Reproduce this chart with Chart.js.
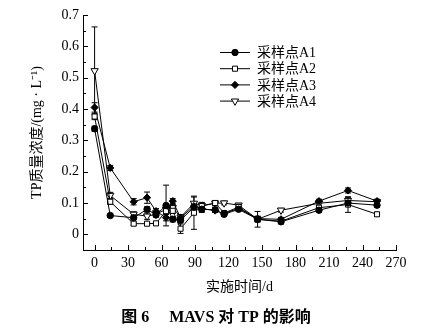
<!DOCTYPE html>
<html>
<head>
<meta charset="utf-8">
<script src="https://cdn.jsdelivr.net/npm/chart.js@4.4.1/dist/chart.umd.min.js"></script>
<style>
  html, body { margin: 0; padding: 0; background: #fff; }
  #wrap { width: 435px; height: 333px; position: relative; }
</style>
</head>
<body>
<div id="wrap"><canvas id="tpChart" width="435" height="333"></canvas></div>
<script>
// sampling days
const days = [0, 14, 35, 47, 55, 64, 70, 77, 89, 96, 108, 116, 129, 146, 167, 201, 227, 253];

// TP concentration per sampling point (mg/L)
const a1 = [0.337, 0.060, 0.053, 0.080, 0.062, 0.092, 0.048, 0.045, 0.087, 0.080, 0.078, 0.064, 0.080, 0.048, 0.040, 0.077, 0.100, 0.093];
const a2 = [0.376, 0.104, 0.034, 0.034, 0.035, 0.074, 0.075, 0.018, 0.069, 0.090, 0.100, 0.068, 0.087, 0.048, 0.042, 0.085, 0.095, 0.064];
const a3 = [0.405, 0.212, 0.104, 0.117, 0.074, 0.053, 0.106, 0.053, 0.090, 0.082, 0.076, 0.066, 0.083, 0.050, 0.048, 0.106, 0.140, 0.106];
const a4 = [0.522, 0.124, 0.064, 0.058, 0.064, 0.080, 0.085, 0.055, 0.099, 0.092, 0.099, 0.100, 0.093, 0.048, 0.077, 0.099, 0.108, 0.104];

// error bar half-widths
const e1 = [0.008, 0.005, 0.006, 0.008, 0.006, 0.065, 0.008, 0.008, 0.008, 0.010, 0.008, 0.006, 0.006, 0.025, 0.006, 0.006, 0.010, 0.006];
const e2 = [0.010, 0.008, 0.005, 0.005, 0.005, 0.010, 0.008, 0.015, 0.053, 0.012, 0.008, 0.006, 0.006, 0.008, 0.006, 0.006, 0.025, 0.006];
const e3 = [0.015, 0.008, 0.010, 0.018, 0.008, 0.010, 0.008, 0.008, 0.010, 0.008, 0.006, 0.006, 0.006, 0.008, 0.006, 0.006, 0.008, 0.006];
const e4 = [0.140, 0.010, 0.008, 0.010, 0.008, 0.015, 0.010, 0.008, 0.020, 0.008, 0.008, 0.006, 0.006, 0.008, 0.006, 0.006, 0.010, 0.006];

const names = ['采样点A1', '采样点A2', '采样点A3', '采样点A4'];
const xTicks = [0, 30, 60, 90, 120, 150, 180, 210, 240, 270];
const yTicks = [0, 0.1, 0.2, 0.3, 0.4, 0.5, 0.6, 0.7];

const serif = "'Liberation Serif', 'Noto Sans CJK SC', serif";

function toPoints(arr) {
  return days.map((d, i) => ({ x: d, y: arr[i] }));
}

function makeSet(label, arr, errs, style, fill, radius, rotation) {
  return {
    label: label,
    data: toPoints(arr),
    errs: errs,
    borderColor: '#000',
    borderWidth: 1,
    pointStyle: style,
    pointRadius: radius,
    pointHoverRadius: radius,
    pointRotation: rotation || 0,
    pointBackgroundColor: fill,
    pointBorderColor: '#000',
    pointBorderWidth: 1,
    showLine: true,
    tension: 0
  };
}

const errorBars = {
  id: 'errorBars',
  beforeDatasetsDraw(chart) {
    const ctx = chart.ctx;
    const ys = chart.scales.y;
    ctx.save();
    ctx.strokeStyle = '#000';
    ctx.lineWidth = 1;
    chart.data.datasets.forEach((ds, di) => {
      const meta = chart.getDatasetMeta(di);
      meta.data.forEach((pt, i) => {
        const v = ds.data[i].y, e = ds.errs[i];
        const top = ys.getPixelForValue(v + e);
        const bot = ys.getPixelForValue(v - e);
        ctx.beginPath();
        ctx.moveTo(pt.x, top); ctx.lineTo(pt.x, bot);
        ctx.moveTo(pt.x - 3, top); ctx.lineTo(pt.x + 3, top);
        ctx.moveTo(pt.x - 3, bot); ctx.lineTo(pt.x + 3, bot);
        ctx.stroke();
      });
    });
    ctx.restore();
  }
};

const decorations = {
  id: 'decorations',
  afterDraw(chart) {
    const ctx = chart.ctx;
    const xs = chart.scales.x, ys = chart.scales.y;
    const area = chart.chartArea;
    ctx.save();
    ctx.strokeStyle = '#000';
    ctx.lineWidth = 1;
    // inward tick marks, major and minor
    ctx.beginPath();
    for (let v = 0; v <= 270; v += 15) {
      const px = Math.round(xs.getPixelForValue(v)) + 0.5;
      const len = v % 30 === 0 ? 5 : 3;
      ctx.moveTo(px, area.bottom); ctx.lineTo(px, area.bottom - len);
    }
    for (let k = 0; k <= 14; k++) {
      const py = Math.round(ys.getPixelForValue(k * 0.05)) + 0.5;
      const len = k % 2 === 0 ? 5 : 3;
      ctx.moveTo(area.left, py); ctx.lineTo(area.left + len, py);
    }
    ctx.stroke();

    // legend
    const lx = 220, ly = 52.5, step = 16.2;
    ctx.font = "14px " + serif;
    ctx.textBaseline = 'middle';
    chart.data.datasets.forEach((ds, i) => {
      const y = ly + i * step;
      ctx.beginPath();
      ctx.moveTo(lx, y); ctx.lineTo(lx + 30, y);
      ctx.stroke();
      ctx.fillStyle = ds.pointBackgroundColor;
      Chart.helpers.drawPoint(ctx, {
        pointStyle: ds.pointStyle,
        radius: ds.pointRadius,
        rotation: ds.pointRotation,
        borderWidth: 1
      }, lx + 15, y);
      ctx.fillStyle = '#000';
      ctx.fillText(ds.label, lx + 37, y + 1);
    });

    // figure caption
    ctx.font = "bold 16px " + serif;
    ctx.textAlign = 'center';
    ctx.fillText('图 6　 MAVS 对 TP 的影响', 216, 318);
    ctx.restore();
  }
};

new Chart(document.getElementById('tpChart'), {
  type: 'line',
  data: {
    datasets: [
      makeSet(names[0], a1, e1, 'circle', '#000', 3.2, 0),
      makeSet(names[1], a2, e2, 'rect', '#fff', 3.6, 0),
      makeSet(names[2], a3, e3, 'rectRot', '#000', 3.6, 0),
      makeSet(names[3], a4, e4, 'triangle', '#fff', 4.2, 180)
    ]
  },
  options: {
    responsive: false,
    animation: false,
    layout: { padding: { left: 0, right: 39, top: 15, bottom: 0 } },
    plugins: {
      legend: { display: false },
      tooltip: { enabled: false }
    },
    scales: {
      x: {
        type: 'linear',
        min: -10.4,
        max: 270,
        afterBuildTicks: scale => { scale.ticks = xTicks.map(v => ({ value: v })); },
        afterFit: scale => { scale.height = 83; },
        grid: { display: false, drawTicks: false },
        border: { display: true, color: '#000', width: 1 },
        ticks: { color: '#000', font: { family: serif, size: 14 }, padding: 5, maxRotation: 0, autoSkip: false },
        title: {
          display: true,
          text: '实施时间/d',
          color: '#000',
          font: { family: serif, size: 14 },
          padding: { top: 0, bottom: 37 }
        }
      },
      y: {
        min: -0.05,
        max: 0.7,
        afterBuildTicks: scale => { scale.ticks = yTicks.map(v => ({ value: v })); },
        afterFit: scale => { scale.width = 83; },
        grid: { display: false, drawTicks: false },
        border: { display: true, color: '#000', width: 1 },
        ticks: { color: '#000', font: { family: serif, size: 14 }, padding: 4, autoSkip: false,
          callback: v => String(Math.round(v * 10) / 10) },
        title: {
          display: true,
          text: 'TP质量浓度/(mg · L⁻¹)',
          color: '#000',
          font: { family: serif, size: 14 },
          padding: { top: 29, bottom: 0 }
        }
      }
    }
  },
  plugins: [errorBars, decorations]
});
</script>
</body>
</html>
